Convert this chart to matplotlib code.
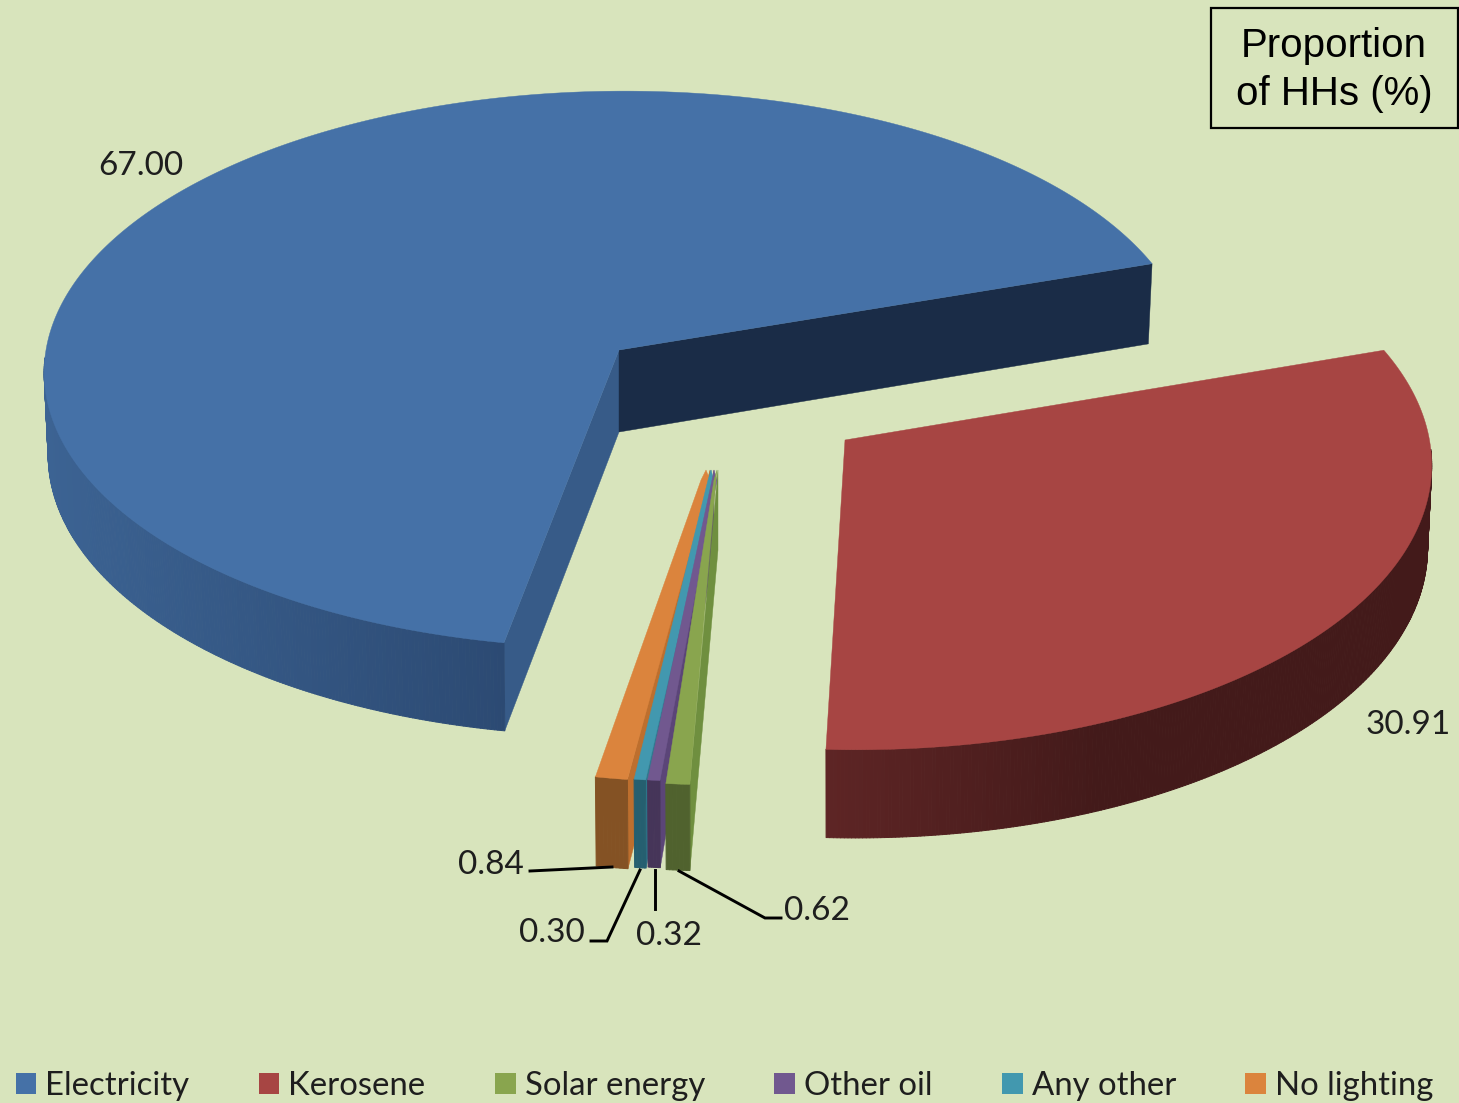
import numpy as np
import matplotlib as mpl
import matplotlib.pyplot as plt
from matplotlib.patches import Polygon, Patch, Rectangle
from matplotlib.collections import PolyCollection
from matplotlib.colors import to_rgb

# proportion of households by main lighting source
categories = ['Electricity', 'Kerosene', 'Solar energy', 'Other oil', 'Any other', 'No lighting']
values = [67.00, 30.91, 0.62, 0.32, 0.30, 0.84]

tops = ['#4571a7', '#a74543', '#89a54e', '#71588f', '#4298af', '#db843d']
wall_a = ['#3c6393', '#5e2525', '#50622e', '#463559', '#255f70', '#845224']
wall_b = ['#2c4a73', '#431a1a', '#50622e', '#463559', '#255f70', '#845224']
cut_start = ['#375b88', None, '#6f8f3f', '#5b4578', '#2f7a90', '#bd6f2e']
cut_end = ['#1a2c47', None, None, None, None, None]

# exploded apex of each slice and its stretch, in pixels of the picture
apex = [(619, 350), (845, 440), (714, 470), (713, 470), (711, 470), (708, 470)]
sx = [1.0, 1.02, 1.0, 1.0, 1.0, 1.0]
sy = [1.0, 1.04, 1.057, 1.047, 1.047, 1.048]
shear = [0.01, -0.017, -0.008, 0.0, 0.0, 0.006]
depth = [82, 82, 80, 81, 82, 83]
# the thin slices narrow fast near the tip: x of right and left edge just below it
tip_right = [619, 845, 716, 717, 714, 710]
tip_left = [619, 845, 714, 712, 708, 701]
tip_x = [619, 845, 717, 714, 711, 706]
tip_drop = [0, 0, 10, 10, 10, 10]
face_tip = [619, 845, 718, 714, 711, 710]
# x range over which the wall shade runs
shade_x = [(44, 505), (826, 1100), (0, 1), (0, 1), (0, 1), (0, 1)]

R, S, K = 573, 277, 0.07
START = 259.8
BG = '#d8e4bc'

mpl.rcParams['font.family'] = 'Lato'


def rim(i, th, low=False):
    u, v = np.cos(th), np.sin(th)
    w = 1 + K * v
    shrink = 0.993 if low else 1.0
    x = apex[i][0] + shrink * R * sx[i] * (u + shear[i] * v) / w
    y = apex[i][1] - S * sy[i] * v / w
    if low:
        y = y + depth[i] / w
    return x, y


fig = plt.figure(figsize=(14.59, 11.03), dpi=100, facecolor=BG)
ax = fig.add_axes([0, 0, 1, 1])
ax.set_xlim(0, 1459)
ax.set_ylim(1103, 0)
ax.axis('off')

fracs = np.array(values) / np.sum(values) * 360
ends = START - np.cumsum(fracs)
starts = ends + fracs

for rank, i in enumerate([0, 1, 5, 4, 3, 2]):
    th = np.radians(np.linspace(starts[i], ends[i], max(int(fracs[i] * 3), 8)))
    x0, y0 = apex[i]
    xt, yt = rim(i, th)
    xb, yb = rim(i, th, low=True)

    # flat faces of the cut, behind the rest of the slice
    for col, j in ((cut_start[i], 0), (cut_end[i], -1)):
        if col is None:
            continue
        pts = [(face_tip[i], y0), (xt[j], yt[j]), (xb[j], yb[j]), (face_tip[i], y0 + depth[i])]
        ax.add_patch(Polygon(pts, closed=True, fc=col, ec=col, lw=0.3, zorder=2 + rank * 0.01))

    # curved outer wall, shaded along x
    quads, cols = [], []
    ca, cb = np.array(to_rgb(wall_a[i])), np.array(to_rgb(wall_b[i]))
    lo, hi = shade_x[i]
    for n in range(len(th) - 1):
        if np.sin(th[n]) > -0.03:
            continue
        quads.append([(xt[n], yt[n]), (xt[n + 1], yt[n + 1]), (xb[n + 1], yb[n + 1]), (xb[n], yb[n])])
        cols.append(ca + (cb - ca) * np.clip((xt[n] - lo) / (hi - lo), 0, 1))
    ax.add_collection(PolyCollection(quads, facecolors=cols, edgecolors=cols, linewidths=0.7,
                                     zorder=3 + rank * 0.01))

    # top surface
    pts = np.vstack([[tip_x[i], y0], [tip_right[i], y0 + tip_drop[i]], np.column_stack([xt, yt]),
                     [tip_left[i], y0 + tip_drop[i]]])
    ax.add_patch(Polygon(pts, closed=True, fc=tops[i], ec=tops[i], lw=0.3, zorder=4 + rank * 0.01))

# value labels and their leader lines
label_xy = [(141, 166), (1408, 725), (817, 911), (669, 936), (552, 933), (491, 865)]
leaders = [None, None,
           [(679, 871), (765, 918), (781, 918)],
           [(655, 870), (655, 909)],
           [(640, 870), (607, 941), (591, 941)],
           [(612, 867), (530, 871)]]
for i, val in enumerate(values):
    ax.text(label_xy[i][0], label_xy[i][1], f'{val:.2f}', fontsize=24, color='#1e1e1e',
            ha='center', va='center', zorder=6)
    if leaders[i] is not None:
        ax.plot(*zip(*leaders[i]), color='black', lw=2.1, solid_joinstyle='miter', zorder=6)

# note box, top right
ax.add_patch(Rectangle((1211, 8), 247, 120, fc='none', ec='black', lw=1.6, zorder=6))
ax.text(1334, 70, 'Proportion\nof HHs (%)', family='Liberation Sans', fontsize=29, color='black',
        ha='center', va='center', linespacing=1.36, zorder=6)

handles = [Patch(fc=c, ec=c, lw=0) for c in tops]
ax.legend(handles, categories, ncol=6, loc='center', bbox_to_anchor=(724.5, 1086),
          bbox_transform=ax.transData, frameon=False, fontsize=23.7, handlelength=0.63,
          handleheight=0.63, handletextpad=0.27, columnspacing=2.11, labelcolor='#1e1e1e',
          borderpad=0, borderaxespad=0)

plt.savefig('out.png', dpi=100, facecolor=BG)
